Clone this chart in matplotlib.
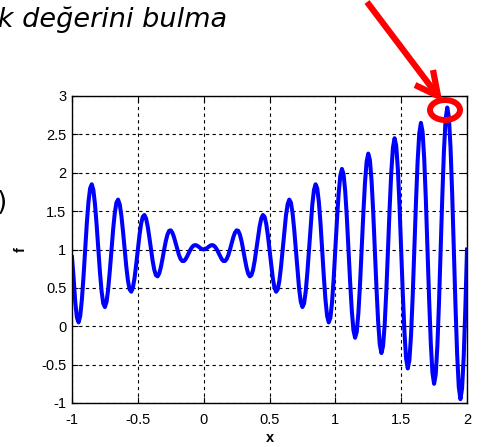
import numpy as np
import matplotlib.pyplot as plt
from matplotlib.patches import Ellipse

# sample points (step 0.0125 from -1 to 2), one row per wave
x_start, x_end, n_pts = -1.0, 2.0, 241
f_vals = [
    0.90, 0.622, 0.311, 0.111, 0.05, 0.134, 0.346, 0.651, 1.0, 1.340, 1.619, 1.797, 1.85, 1.774, 1.583, 1.311,
    1.0, 0.699, 0.452, 0.296, 0.25, 0.319, 0.487, 0.727, 1.0, 1.263, 1.477, 1.612, 1.65, 1.589, 1.442, 1.234,
    1.0, 0.775, 0.593, 0.480, 0.45, 0.503, 0.629, 0.804, 1.0, 1.187, 1.336, 1.427, 1.45, 1.404, 1.301, 1.158,
    1.0, 0.852, 0.735, 0.665, 0.65, 0.688, 0.770, 0.880, 1.0, 1.110, 1.194, 1.243, 1.25, 1.219, 1.159, 1.081,
    1.0, 0.928, 0.876, 0.850, 0.85, 0.873, 0.912, 0.957, 1.0, 1.033, 1.053, 1.058, 1.05, 1.035, 1.018, 1.005,
    1.0, 1.005, 1.018, 1.035, 1.05, 1.058, 1.053, 1.033, 1.0, 0.957, 0.912, 0.873, 0.85, 0.850, 0.876, 0.928,
    1.0, 1.081, 1.159, 1.219, 1.25, 1.243, 1.194, 1.110, 1.0, 0.880, 0.770, 0.688, 0.65, 0.665, 0.735, 0.852,
    1.0, 1.158, 1.301, 1.404, 1.45, 1.427, 1.336, 1.187, 1.0, 0.804, 0.629, 0.503, 0.45, 0.480, 0.593, 0.775,
    1.0, 1.234, 1.442, 1.589, 1.65, 1.612, 1.477, 1.263, 1.0, 0.727, 0.487, 0.319, 0.25, 0.296, 0.452, 0.699,
    1.0, 1.311, 1.583, 1.774, 1.85, 1.797, 1.619, 1.340, 1.0, 0.651, 0.346, 0.134, 0.05, 0.111, 0.311, 0.622,
    1.0, 1.387, 1.725, 1.959, 2.05, 1.982, 1.760, 1.416, 1.0, 0.574, 0.205, -0.051, -0.15, -0.074, 0.169, 0.546,
    1.0, 1.464, 1.866, 2.143, 2.25, 2.166, 1.902, 1.493, 1.0, 0.498, 0.063, -0.236, -0.35, -0.259, 0.028, 0.469,
    1.0, 1.541, 2.008, 2.328, 2.45, 2.351, 2.043, 1.569, 1.0, 0.421, -0.078, -0.421, -0.55, -0.444, -0.114, 0.392,
    1.0, 1.617, 2.149, 2.513, 2.65, 2.536, 2.184, 1.646, 1.0, 0.345, -0.220, -0.605, -0.75, -0.628, -0.255, 0.316,
    1.0, 1.694, 2.290, 2.698, 2.85, 2.721, 2.326, 1.722, 1.0, 0.268, -0.361, -0.790, -0.95, -0.813, -0.397, 0.239,
    1.0,
]
x_vals = np.linspace(x_start, x_end, n_pts)

xticks = [-1, -0.5, 0, 0.5, 1, 1.5, 2]
xtick_labels = ['-1', '-0.5', '0', '0.5', '1', '1.5', '2']
yticks = [-1, -0.5, 0, 0.5, 1, 1.5, 2, 2.5, 3]
ytick_labels = ['-1', '-0.5', '0', '0.5', '1', '1.5', '2', '2.5', '3']

W, H = 482, 447
fig = plt.figure(figsize=(W / 100, H / 100), dpi=100)

ax = fig.add_axes([72 / W, 1 - 403 / H, (467 - 72) / W, (403 - 96) / H])
ax.plot(x_vals, f_vals, color='#0000ff', linewidth=2.9, solid_joinstyle='round')
ax.set_xlim(-1, 2)
ax.set_ylim(-1, 3)
ax.set_xticks(xticks)
ax.set_xticklabels(xtick_labels)
ax.set_yticks(yticks)
ax.set_yticklabels(ytick_labels)
ax.grid(True, color='black', linestyle=(0, (3, 3)), linewidth=0.8)
ax.tick_params(direction='in', top=True, right=True, length=4, width=0.8,
               labelsize=10.5)
ax.tick_params(axis='x', pad=7)
ax.tick_params(axis='y', pad=4)
for lab in ax.get_xticklabels() + ax.get_yticklabels():
    lab.set_family('Liberation Sans')
for s in ax.spines.values():
    s.set_linewidth(1.0)
ax.set_xlabel('x', fontsize=10.5, fontweight='bold', family='Liberation Sans', labelpad=3)
ax.set_ylabel('f', fontsize=10.5, fontweight='bold', family='Liberation Sans', labelpad=10)

# overlay in pixel coordinates for the slide annotations
ov = fig.add_axes([0, 0, 1, 1], zorder=5)
ov.set_xlim(0, W)
ov.set_ylim(H, 0)
ov.axis('off')
ov.patch.set_alpha(0)

ov.text(227, 27, 'ek değerini bulma', ha='right', va='baseline',
        fontsize=19.5, style='italic', family='DejaVu Sans')
ov.text(7, 210, ')', ha='right', va='baseline', fontsize=19, family='DejaVu Sans')

red = '#ff0000'
ov.plot([367, 438], [2, 96], color=red, linewidth=4.5, solid_capstyle='butt')
ov.plot([415, 438, 433], [85, 96, 70], color=red, linewidth=4.5,
        solid_joinstyle='miter', solid_capstyle='butt')
ov.add_patch(Ellipse((445, 110), 30, 20, fill=False, edgecolor=red, linewidth=4.3))

fig.savefig('out.png', dpi=100)
